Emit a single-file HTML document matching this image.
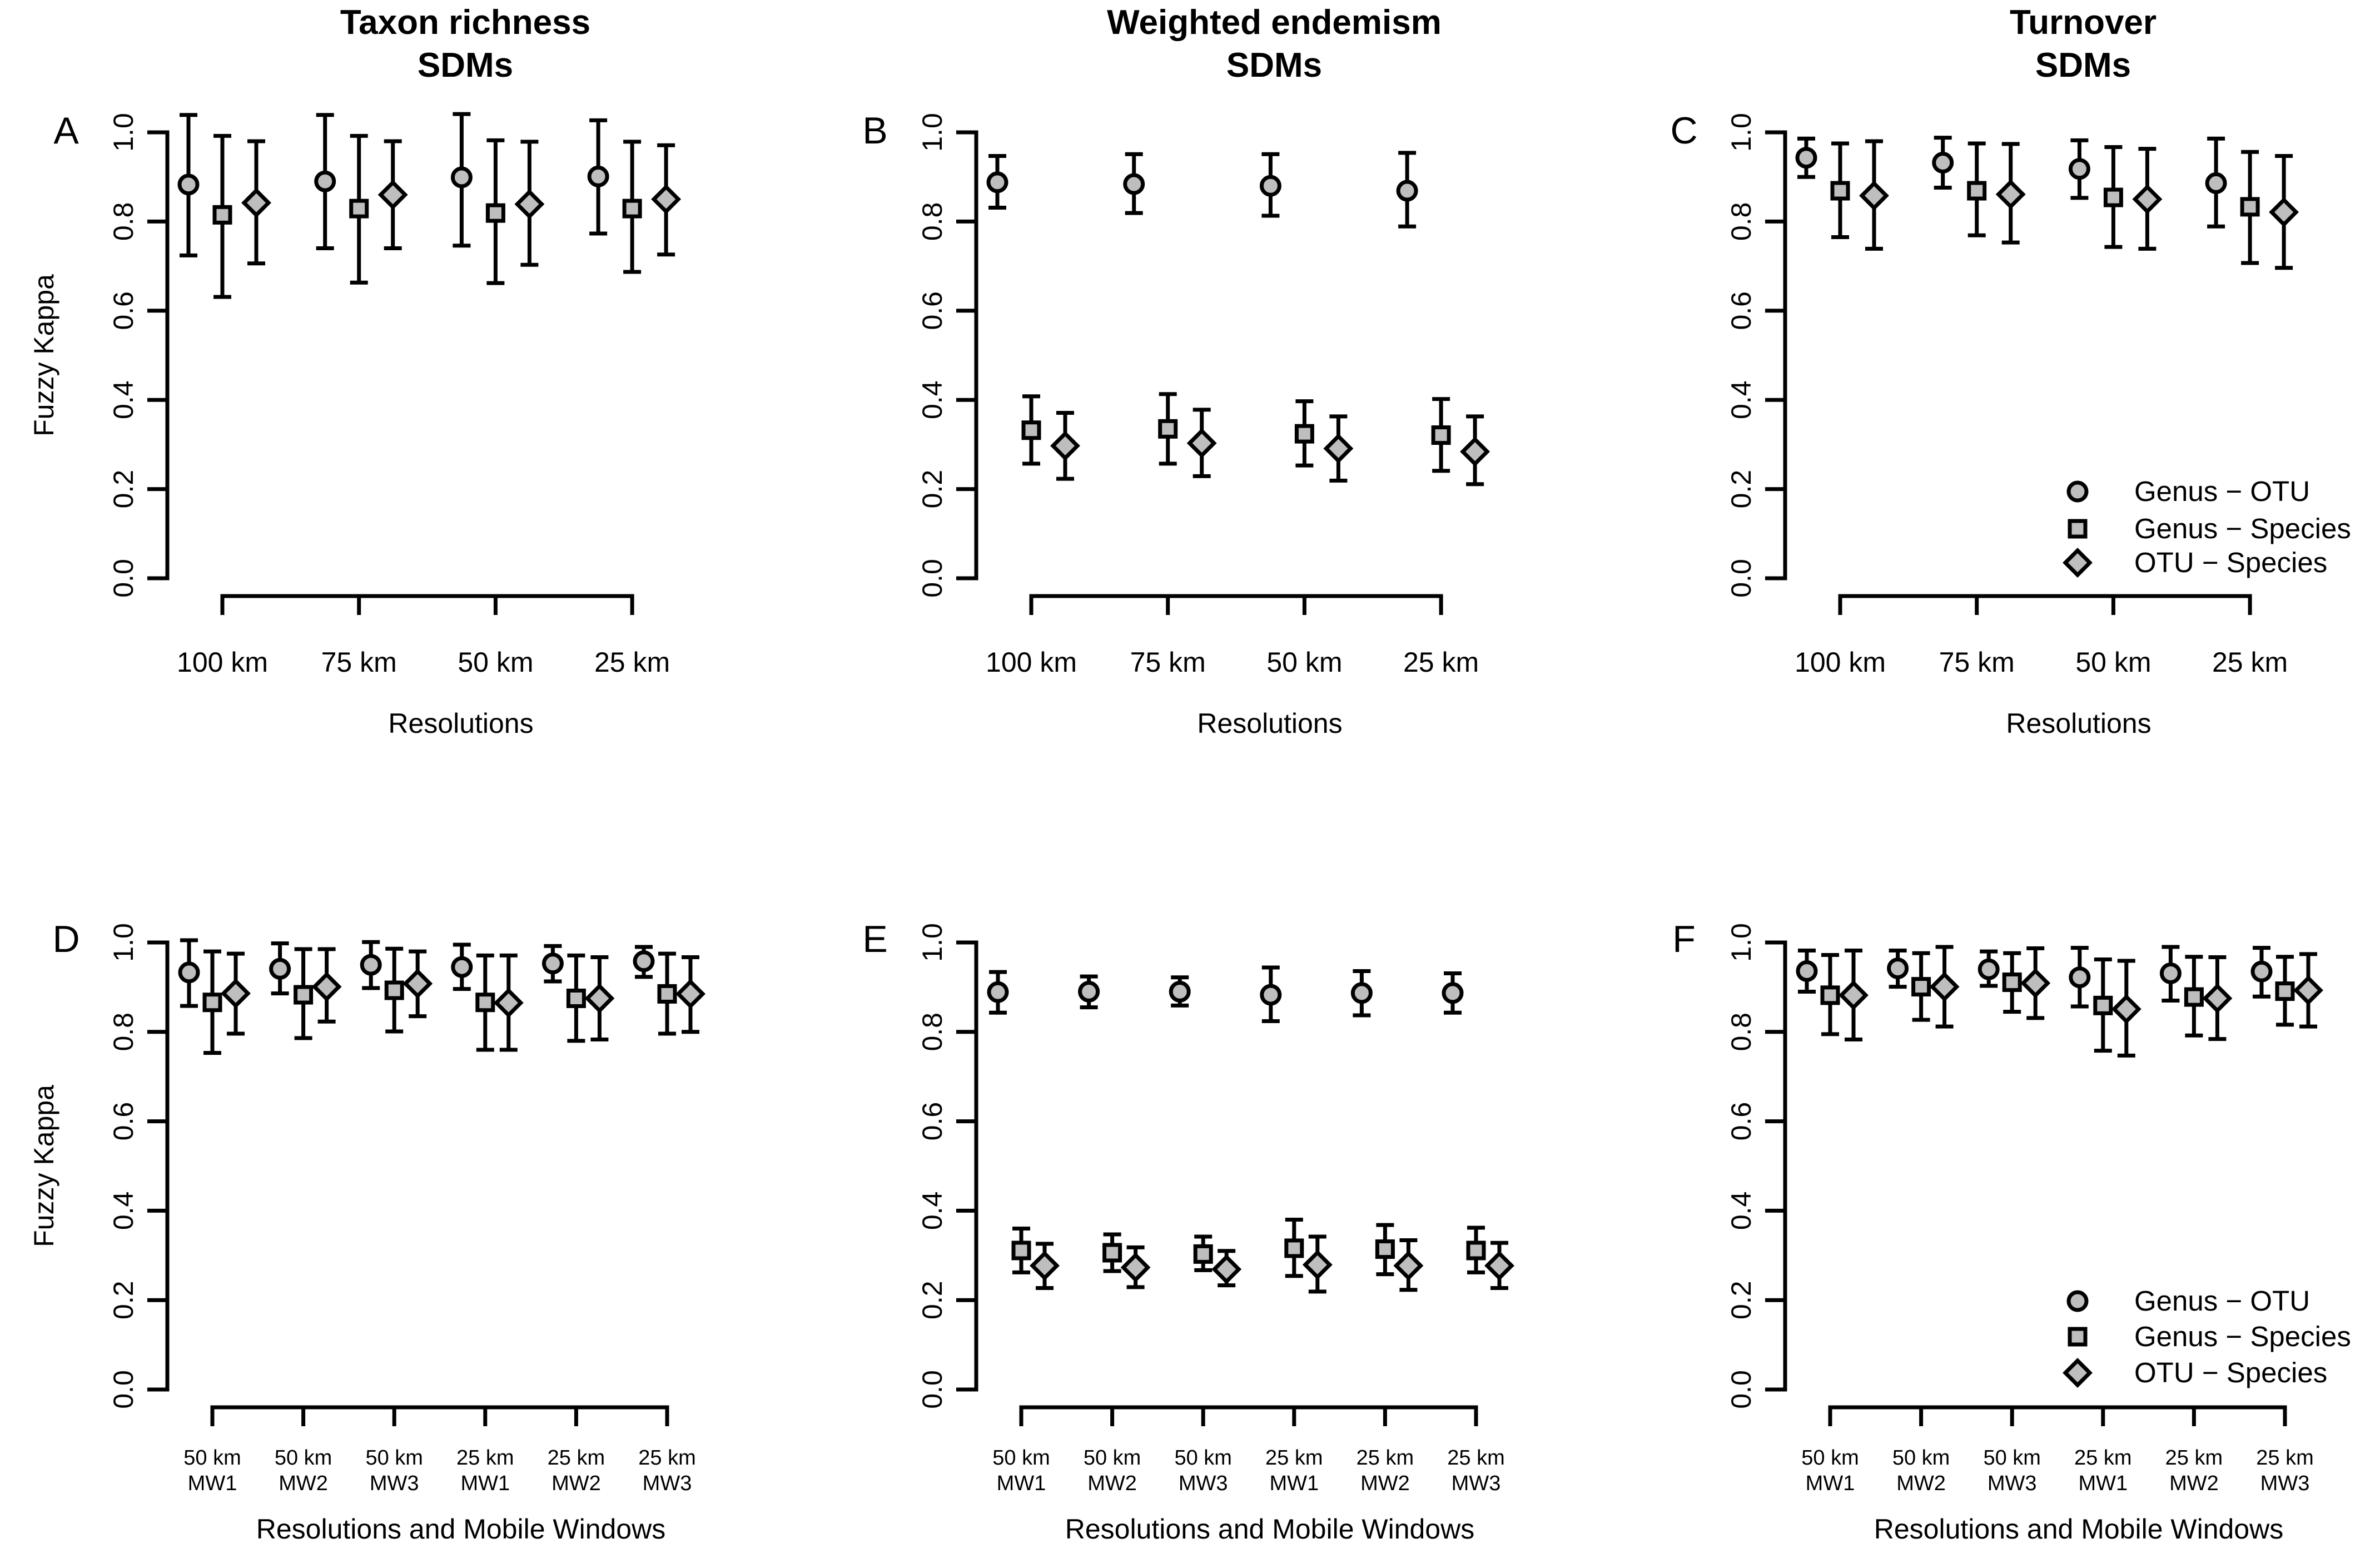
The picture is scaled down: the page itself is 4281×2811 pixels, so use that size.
<!DOCTYPE html>
<html><head><meta charset="utf-8"><style>
html,body{margin:0;padding:0;background:#fff;}
svg{display:block;font-family:"Liberation Sans",Arial,sans-serif;}
</style></head><body>
<svg id="fig" width="4281" height="2811" viewBox="0 0 4281 2811" xmlns="http://www.w3.org/2000/svg"></svg>
<script>
// ---- data: means and error-bar limits per panel ----
// Panel A: Taxon richness
const aGOmean=[0.883,0.890,0.899,0.901], aGOlo=[0.724,0.740,0.746,0.773], aGOhi=[1.039,1.039,1.041,1.027];
const aGSmean=[0.815,0.829,0.819,0.829], aGSlo=[0.631,0.663,0.662,0.687], aGShi=[0.992,0.992,0.982,0.979];
const aOSmean=[0.842,0.860,0.839,0.850], aOSlo=[0.706,0.740,0.703,0.726], aOShi=[0.980,0.980,0.979,0.971];
// Panel B: Weighted endemism
const bGOmean=[0.888,0.884,0.880,0.869], bGOlo=[0.831,0.819,0.813,0.789], bGOhi=[0.947,0.951,0.951,0.954];
const bGSmean=[0.332,0.335,0.324,0.321], bGSlo=[0.257,0.257,0.253,0.241], bGShi=[0.408,0.413,0.397,0.402];
const bOSmean=[0.297,0.303,0.291,0.284], bOSlo=[0.223,0.229,0.219,0.211], bOShi=[0.371,0.378,0.363,0.363];
// Panel C: Turnover
const cGOmean=[0.943,0.932,0.918,0.886], cGOlo=[0.900,0.876,0.853,0.789], cGOhi=[0.986,0.988,0.982,0.986];
const cGSmean=[0.869,0.869,0.854,0.833], cGSlo=[0.765,0.769,0.743,0.707], cGShi=[0.975,0.975,0.967,0.956];
const cOSmean=[0.858,0.861,0.850,0.821], cOSlo=[0.739,0.753,0.739,0.696], cOShi=[0.980,0.974,0.963,0.947];
// Panel D
const dGOmean=[0.933,0.941,0.950,0.945,0.953,0.958], dGOlo=[0.858,0.886,0.898,0.896,0.913,0.923], dGOhi=[1.005,0.998,1.001,0.995,0.992,0.990];
const dGSmean=[0.866,0.883,0.893,0.866,0.875,0.885], dGSlo=[0.753,0.786,0.801,0.760,0.780,0.796], dGShi=[0.980,0.985,0.986,0.971,0.971,0.975];
const dOSmean=[0.886,0.901,0.908,0.865,0.875,0.885], dOSlo=[0.796,0.823,0.835,0.760,0.783,0.800], dOShi=[0.975,0.985,0.980,0.971,0.967,0.967];
// Panel E
const eGOmean=[0.889,0.890,0.890,0.883,0.887,0.887], eGOlo=[0.843,0.855,0.859,0.824,0.837,0.843], eGOhi=[0.934,0.924,0.922,0.944,0.936,0.931];
const eGSmean=[0.311,0.306,0.303,0.316,0.314,0.311], eGSlo=[0.262,0.265,0.267,0.254,0.258,0.262], eGShi=[0.360,0.347,0.342,0.380,0.368,0.362];
const eOSmean=[0.277,0.273,0.269,0.279,0.277,0.277], eOSlo=[0.227,0.229,0.233,0.219,0.223,0.227], eOShi=[0.326,0.318,0.310,0.342,0.334,0.328];
// Panel F
const fGOmean=[0.936,0.942,0.940,0.922,0.931,0.935], fGOlo=[0.890,0.901,0.903,0.857,0.870,0.879], fGOhi=[0.982,0.982,0.980,0.988,0.990,0.988];
const fGSmean=[0.882,0.901,0.911,0.859,0.878,0.891], fGSlo=[0.795,0.827,0.845,0.758,0.792,0.816], fGShi=[0.972,0.976,0.976,0.962,0.968,0.968];
const fOSmean=[0.882,0.901,0.909,0.851,0.875,0.893], fOSlo=[0.783,0.812,0.831,0.747,0.784,0.812], fOShi=[0.982,0.990,0.987,0.959,0.967,0.974];

const topCats=["100 km","75 km","50 km","25 km"];
const botCatsRes=["50 km","50 km","50 km","25 km","25 km","25 km"];
const botCatsMW=["MW1","MW2","MW3","MW1","MW2","MW3"];
const yTicks=[0,0.2,0.4,0.6,0.8,1.0];
const yTickLabels=["0.0","0.2","0.4","0.6","0.8","1.0"];
const legendLabels=["Genus \u2212 OTU","Genus \u2212 Species","OTU \u2212 Species"];

const NS="http://www.w3.org/2000/svg";
const svg=document.getElementById('fig');
const FILL="#bebebe", LW=7;
function mk(tag,attrs,parent){const e=document.createElementNS(NS,tag);for(const k in attrs)e.setAttribute(k,attrs[k]);(parent||svg).appendChild(e);return e;}
function txt(s,x,y,size,opts,parent){const t=mk('text',Object.assign({x:x,y:y,'font-size':size,'text-anchor':'middle',fill:'#000'},opts||{}),parent);t.textContent=s;return t;}

function marker(kind,x,y,g){
  let m;
  if(kind===0){m=mk('circle',{cx:x,cy:y,r:16,fill:FILL,stroke:'#000','stroke-width':LW},g);}
  else if(kind===1){m=mk('rect',{x:x-14,y:y-14,width:28,height:28,fill:FILL,stroke:'#000','stroke-width':LW},g);}
  else {m=mk('polygon',{points:`${x},${y-22} ${x+22},${y} ${x},${y+22} ${x-22},${y}`,fill:FILL,stroke:'#000','stroke-width':LW,'stroke-linejoin':'miter'},g);}
  return m;
}

function panel(cfg){
  const g=mk('g',{});
  
  
  const yTop=cfg.yTop, y0=cfg.y0, ax=cfg.ax;
  const Y=v=>y0-(y0-yTop)*v;
  const X=i=>cfg.tick0+cfg.step*i;
  const ya=mk('g',{},g);
  
  
  mk('line',{x1:ax,y1:Y(0),x2:ax,y2:Y(1),stroke:'#000','stroke-width':LW,'stroke-linecap':'square'},ya);
  yTicks.forEach((v,i)=>{
    mk('line',{x1:ax-36,y1:Y(v),x2:ax,y2:Y(v),stroke:'#000','stroke-width':LW},ya);
    const t=txt(yTickLabels[i],0,0,50,{transform:`translate(${ax-79},${Y(v)}) rotate(-90)`,'dominant-baseline':'central'},ya);
    
    
  });
  const n=cfg.means[0].length;
  const xa=mk('g',{},g);
  
  
  mk('line',{x1:X(0),y1:cfg.xAxisY,x2:X(n-1),y2:cfg.xAxisY,stroke:'#000','stroke-width':LW,'stroke-linecap':'square'},xa);
  for(let i=0;i<n;i++){
    mk('line',{x1:X(i),y1:cfg.xAxisY,x2:X(i),y2:cfg.xAxisY+34,stroke:'#000','stroke-width':LW},xa);
    if(cfg.bottom){
      const t1=txt(botCatsRes[i],X(i),cfg.xAxisY+103,38,{},xa);
      
      
      const t2=txt(botCatsMW[i],X(i),cfg.xAxisY+149,38,{},xa);
      
      
    } else {
      const t=txt(topCats[i],X(i),cfg.xAxisY+136,50,{},xa);
      
      
    }
  }
  const offs=[-cfg.off,0,cfg.off];
  for(let s=0;s<3;s++){
    const sg=mk('g',{},g);
    
    
    for(let i=0;i<n;i++){
      const x=X(i)+offs[s];
      const eb=mk('g',{},sg);
      
      
      mk('line',{x1:x,y1:Y(cfg.lo[s][i]),x2:x,y2:Y(cfg.hi[s][i]),stroke:'#000','stroke-width':LW},eb);
      mk('line',{x1:x-16,y1:Y(cfg.lo[s][i]),x2:x+16,y2:Y(cfg.lo[s][i]),stroke:'#000','stroke-width':LW},eb);
      mk('line',{x1:x-16,y1:Y(cfg.hi[s][i]),x2:x+16,y2:Y(cfg.hi[s][i]),stroke:'#000','stroke-width':LW},eb);
      const m=marker(s,x,Y(cfg.means[s][i]),sg);
      
      
    }
  }
  const L=txt(cfg.letter,ax-182,cfg.letterY,68,{},g);
  
  
  const cx=ax+536;
  if(cfg.title){
    const t1=txt(cfg.title,cx,61,62,{'font-weight':'bold'},g);
    
    
    const t2=txt('SDMs',cx,138,62,{'font-weight':'bold'},g);
    
    
  }
  const xt=txt(cfg.xtitle,cx-8,cfg.xTitleY,50,{},g);
  
  
  if(cfg.ylab){
    const yc=(yTop+y0)/2;
    const yl=txt('Fuzzy Kappa',0,0,50,{transform:`translate(96,${yc}) rotate(-90)`},g);
    
    
  }
  if(cfg.legend){
    const lg=mk('g',{},g);
    
    
    cfg.legendY.forEach((ly,k)=>{
      const le=mk('g',{},lg);
      
      
      marker(k,ax+526,ly,le);
      txt(legendLabels[k],ax+628,ly+17,51,{'text-anchor':'start'},le);
    });
  }
}

const colX=[301,1756,3211];
const topCfg={yTop:238,y0:1040,xAxisY:1072,tick0:400,step:245.7,off:61,letterY:258,xTitleY:1318,bottom:false,xtitle:'Resolutions'};
const botCfg={yTop:1695,y0:2499,xAxisY:2531,tick0:382,step:163.6,off:42,letterY:1712,xTitleY:2767,bottom:true,xtitle:'Resolutions and Mobile Windows'};

panel(Object.assign({},topCfg,{ax:colX[0],tick0:400,letter:'A',title:'Taxon richness',ylab:true,
  means:[aGOmean,aGSmean,aOSmean],lo:[aGOlo,aGSlo,aOSlo],hi:[aGOhi,aGShi,aOShi]}));
panel(Object.assign({},topCfg,{ax:colX[1],tick0:400+1455,letter:'B',title:'Weighted endemism',
  means:[bGOmean,bGSmean,bOSmean],lo:[bGOlo,bGSlo,bOSlo],hi:[bGOhi,bGShi,bOShi]}));
panel(Object.assign({},topCfg,{ax:colX[2],tick0:400+2910,letter:'C',title:'Turnover',legend:true,legendY:[884,951,1012],
  means:[cGOmean,cGSmean,cOSmean],lo:[cGOlo,cGSlo,cOSlo],hi:[cGOhi,cGShi,cOShi]}));
panel(Object.assign({},botCfg,{ax:colX[0],tick0:382,letter:'D',ylab:true,
  means:[dGOmean,dGSmean,dOSmean],lo:[dGOlo,dGSlo,dOSlo],hi:[dGOhi,dGShi,dOShi]}));
panel(Object.assign({},botCfg,{ax:colX[1],tick0:382+1455,letter:'E',
  means:[eGOmean,eGSmean,eOSmean],lo:[eGOlo,eGSlo,eOSlo],hi:[eGOhi,eGShi,eOShi]}));
panel(Object.assign({},botCfg,{ax:colX[2],tick0:382+2910,letter:'F',legend:true,legendY:[2340,2404,2469],
  means:[fGOmean,fGSmean,fOSmean],lo:[fGOlo,fGSlo,fOSlo],hi:[fGOhi,fGShi,fOShi]}));
</script>
</body></html>
